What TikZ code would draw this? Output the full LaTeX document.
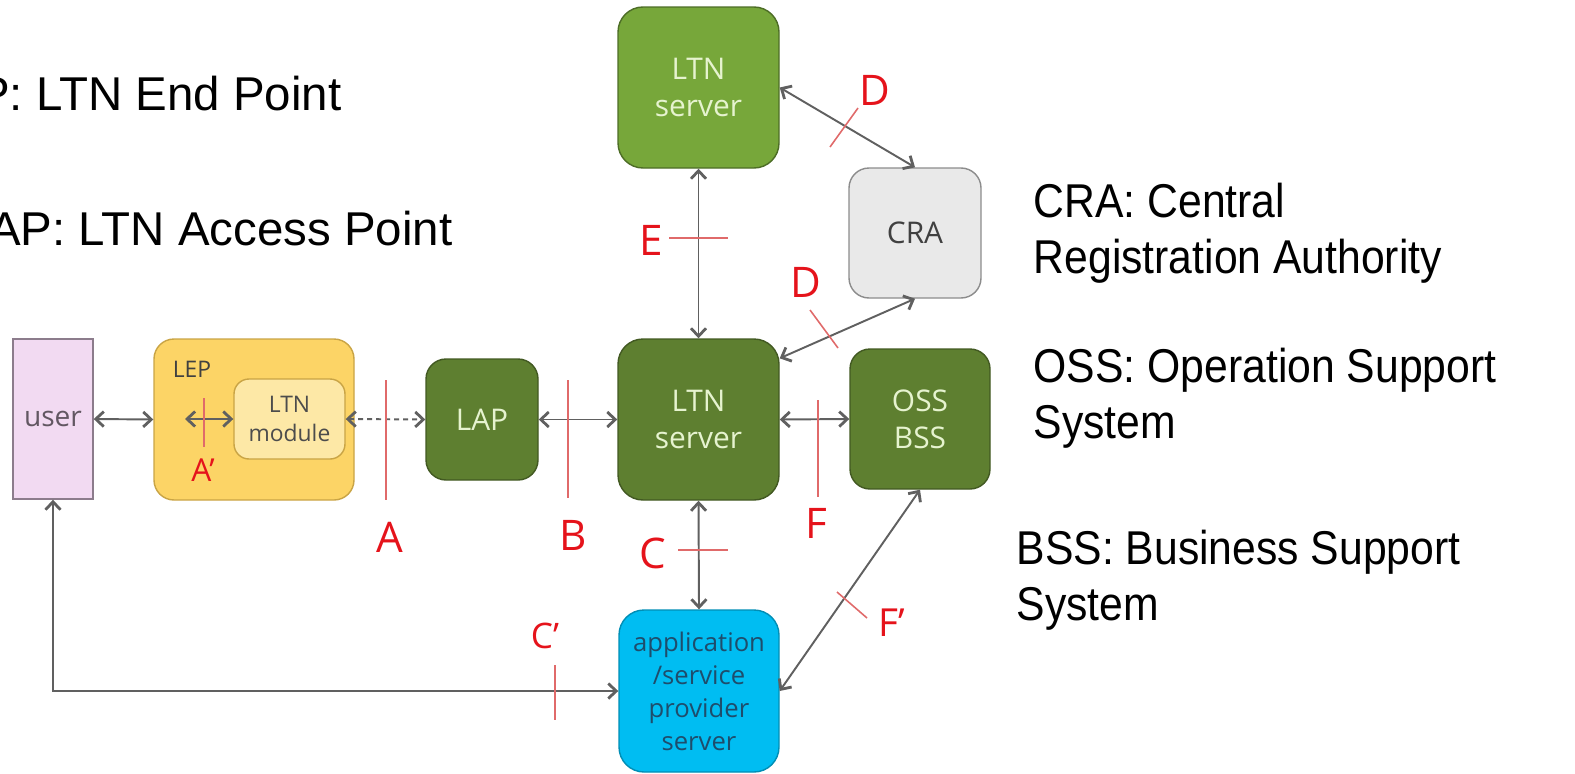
\documentclass[tikz,border=0pt]{standalone}
\usepackage{fontspec}
\setmainfont{Open Sans}
\newfontfamily\arialfont{Liberation Sans}
\newfontfamily\arialnarrow[FakeStretch=0.9]{Liberation Sans}
\usetikzlibrary{arrows.meta, calc}

\definecolor{usercol}{HTML}{F2DAF2}
\definecolor{userline}{HTML}{8C7C8C}
\definecolor{lepcol}{HTML}{FCD466}
\definecolor{lepline}{HTML}{C9A445}
\definecolor{modcol}{HTML}{FDE8A6}
\definecolor{darkgreen}{HTML}{5E7F30}
\definecolor{lightgreen}{HTML}{77A73A}
\definecolor{greentext}{HTML}{E6F3CF}
\definecolor{cracol}{HTML}{E9E9E9}
\definecolor{appcol}{HTML}{00BDF2}
\definecolor{apptext}{HTML}{1E4D6C}
\definecolor{linkgray}{HTML}{606060}
\definecolor{tickred}{HTML}{E06A6A}
\definecolor{labred}{HTML}{E5131B}

\begin{document}
\begin{tikzpicture}[x=0.1mm, y=-0.1mm,
    blk/.style={draw, line width=0.4pt, rounded corners=2mm, align=center, inner sep=0pt},
    link/.style={draw=linkgray, line width=0.55pt,
      {Straight Barb[length=0.8mm,width=1.5mm,line width=0.8pt]}-{Straight Barb[length=0.8mm,width=1.5mm,line width=0.8pt]}},
    tick/.style={draw=tickred, line width=0.45pt},
    ifc/.style={text=labred, inner sep=0pt, font=\fontsize{12}{12}\selectfont},
    note/.style={inner sep=0pt, align=left, font=\arialfont\fontsize{13.5}{15.9}\selectfont},
    sidenote/.style={note, anchor=base west, font=\arialnarrow\fontsize{13.5}{15.9}\selectfont}]
    \useasboundingbox (0,0) rectangle (1575,773);
    % Legend (base = last line)
    \node[note, anchor=base east] (legLEP) at (342,110) {P: LTN End Point};
    \node[note, anchor=base east] (legLAP) at (453,245) {AP: LTN Access Point};
    \node[sidenote] (legCRA) at (1033,273) {CRA: Central\\Registration Authority};
    \node[sidenote] (legOSS) at (1033,438) {OSS: Operation Support\\System};
    \node[sidenote] (legBSS) at (1016,620) {BSS: Business Support\\System};
    % Boxes
    \node[blk, rounded corners=0pt, fill=usercol, draw=userline, text=userline!70!black,
      minimum width=8mm, minimum height=16mm, font=\fontsize{8}{8}\selectfont] (user) at (53,419) {user};
    \node[blk, fill=lepcol, draw=lepline, minimum width=20mm, minimum height=16.1mm] (LEP) at (254,419.5) {};
    \node[inner sep=0pt, text=black!75, font=\fontsize{6.5}{6.5}\selectfont] (leplbl) at (192,369) {LEP};
    \node[blk, rounded corners=1.5mm, fill=modcol, draw=lepline, text=black!70,
      minimum width=11.1mm, minimum height=8mm, font=\fontsize{6.5}{8.2}\selectfont] (module) at (289.5,419) {LTN\\module};
    \node[blk, fill=darkgreen, draw=darkgreen!70!black, text=greentext,
      minimum width=11.2mm, minimum height=12.1mm, font=\fontsize{8.5}{8.5}\selectfont] (LAP) at (482,419.5) {LAP};
    \node[blk, rounded corners=2.5mm, fill=darkgreen, draw=darkgreen!70!black, text=greentext,
      minimum width=16.1mm, minimum height=16.1mm, font=\fontsize{8.5}{10.6}\selectfont] (srv) at (698.5,419.5) {LTN\\server};
    \node[blk, rounded corners=2.5mm, fill=lightgreen, draw=lightgreen!65!black, text=greentext,
      minimum width=16.1mm, minimum height=16.1mm, font=\fontsize{8.5}{10.6}\selectfont] (srvtop) at (698.5,87.5) {LTN\\server};
    \node[blk, fill=cracol, draw=black!45, text=black!75,
      minimum width=13.2mm, minimum height=13mm, font=\fontsize{8.5}{8.5}\selectfont] (CRA) at (915,233) {CRA};
    \node[blk, fill=darkgreen, draw=darkgreen!70!black, text=greentext,
      minimum width=14mm, minimum height=14mm, font=\fontsize{8.5}{10.6}\selectfont] (OSS) at (920,419) {OSS\\BSS};
    \node[blk, rounded corners=2.5mm, fill=appcol, draw=appcol!75!black, text=apptext,
      minimum width=16mm, minimum height=16.2mm, font=\fontsize{7.3}{9.4}\selectfont] (app) at (699,691) {application\\/service\\provider\\server};
    % Connectors
    \coordinate (aleft) at (185,419);
    \draw[link] (user.east) -- (LEP.west);
    \draw[link] (aleft) -- (module.west);
    \draw[link, dash pattern=on 0.5mm off 0.4mm] (module.east) -- (LAP.west);
    \draw[link] (LAP.east) -- (srv.west);
    \draw[link] (srv.east) -- (OSS.west);
    \draw[link] (srvtop.south) -- (srv.north);
    \draw[link] (srv.south) -- (app.north);
    \draw[link] (srvtop.east) -- (CRA.north);
    \draw[link] (srv.37) -- (CRA.south);
    \draw[link] (OSS.south) -- (app.east);
    \draw[link] (user.south) |- (app.west);
    % Reference points
    \foreach \xa/\ya/\xb/\yb in {204/398/204/447, 386/380/386/500, 568/380/568/498,
      669/238/728/238, 678/550/728/550, 818/400/818/497, 830/147/858/108,
      810/310/838/348, 837/592/867/618, 555/665/555/720}
      \draw[tick] (\xa,\ya) -- (\xb,\yb);
    \node[ifc, font=\fontsize{9}{9}\selectfont] (refA1) at (203,470) {A'};
    \node[ifc] (refA) at (390,537) {A};
    \node[ifc] (refB) at (573,535) {B};
    \node[ifc] (refE) at (651,240) {E};
    \node[ifc] (refC) at (653,553) {C};
    \node[ifc] (refD1) at (875,90) {D};
    \node[ifc] (refD2) at (806,282) {D};
    \node[ifc] (refF) at (816,523) {F};
    \node[ifc, font=\fontsize{11}{11}\selectfont] (refF1) at (892,623) {F'};
    \node[ifc, font=\fontsize{10}{10}\selectfont] (refC1) at (545,636) {C'};
\end{tikzpicture}
\end{document}
